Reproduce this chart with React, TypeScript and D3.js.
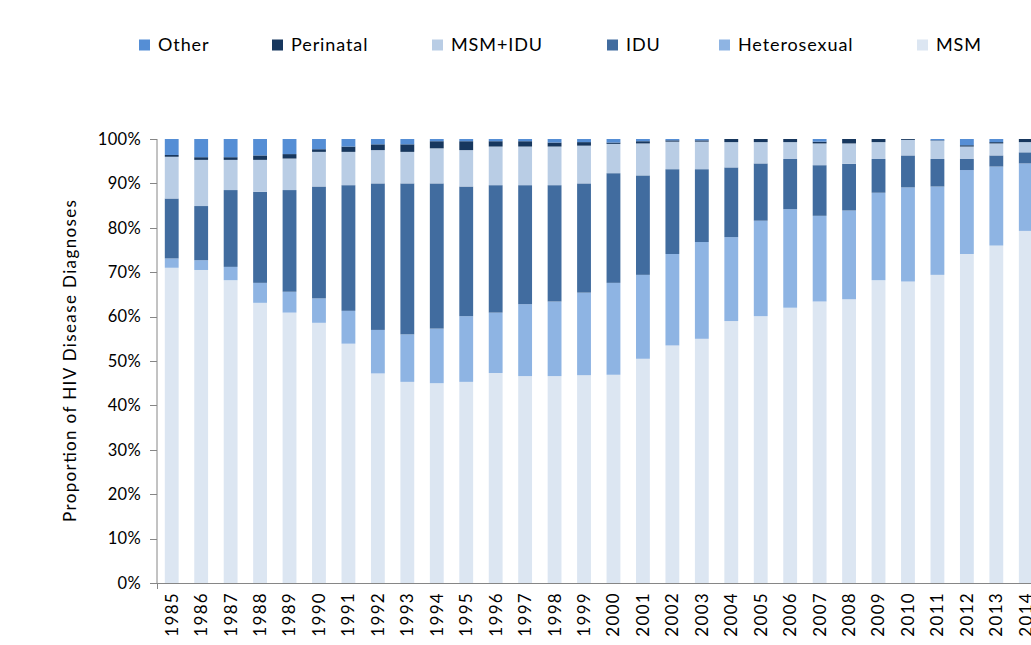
import React, { useEffect, useRef } from "react";
import * as d3 from "d3";

// years on the category axis
const years = [
  "1985", "1986", "1987", "1988", "1989", "1990", "1991", "1992", "1993", "1994",
  "1995", "1996", "1997", "1998", "1999", "2000", "2001", "2002", "2003", "2004",
  "2005", "2006", "2007", "2008", "2009", "2010", "2011", "2012", "2013", "2014"
];

// share of diagnoses (%) per transmission category
const msm = [
  71.0, 70.5, 68.2, 63.1, 60.9, 58.6, 53.9, 47.2, 45.3, 45.0,
  45.3, 47.3, 46.6, 46.6, 46.8, 46.9, 50.5, 53.5, 55.0, 59.0,
  60.1, 62.0, 63.4, 63.9, 68.2, 67.9, 69.4, 74.1, 76.0, 79.3
];
const heterosexual = [
  2.1, 2.2, 3.0, 4.5, 4.7, 5.5, 7.4, 9.8, 10.7, 12.3,
  14.8, 13.6, 16.2, 16.8, 18.6, 20.7, 18.9, 20.6, 21.8, 18.9,
  21.5, 22.2, 19.3, 20.0, 19.7, 21.2, 19.9, 18.9, 17.8, 15.2
];
const idu = [
  13.5, 12.2, 17.3, 20.5, 22.9, 25.2, 28.3, 33.0, 34.0, 32.7,
  29.2, 28.7, 26.8, 26.2, 24.6, 24.7, 22.4, 19.1, 16.4, 15.7,
  12.9, 11.3, 11.4, 10.5, 7.6, 7.2, 6.2, 2.5, 2.5, 2.5
];
const msmIdu = [
  9.4, 10.4, 6.8, 7.2, 7.1, 7.8, 7.5, 7.5, 7.1, 7.9,
  8.2, 8.7, 8.7, 8.7, 8.5, 6.6, 7.2, 6.2, 6.2, 5.7,
  4.8, 3.8, 4.9, 4.6, 3.8, 3.5, 4.1, 2.8, 2.7, 2.3
];
const perinatal = [
  0.4, 0.6, 0.6, 1.0, 1.0, 0.6, 1.2, 1.3, 1.7, 1.6,
  2.0, 1.2, 1.2, 0.9, 0.8, 0.3, 0.5, 0.3, 0.3, 0.7,
  0.7, 0.7, 0.4, 1.0, 0.7, 0.2, 0.1, 0.3, 0.3, 0.7
];
const other = [
  3.6, 4.1, 4.1, 3.7, 3.4, 2.3, 1.7, 1.2, 1.2, 0.5,
  0.5, 0.5, 0.5, 0.8, 0.7, 0.8, 0.5, 0.3, 0.3, 0.0,
  0.0, 0.0, 0.6, 0.0, 0.0, 0.0, 0.4, 1.4, 0.7, 0.0
];

const seriesKeys = ["MSM", "Heterosexual", "IDU", "MSM+IDU", "Perinatal", "Other"];
const seriesValues = [msm, heterosexual, idu, msmIdu, perinatal, other];
const colors = ["#dce6f2", "#8eb4e3", "#416c9f", "#b9cde5", "#17375e", "#558ed5"];

// legend runs in reverse stacking order
const legendKeys = ["Other", "Perinatal", "MSM+IDU", "IDU", "Heterosexual", "MSM"];
const legendX = [139, 272, 432, 607, 719, 917];

const yTicks = [0, 10, 20, 30, 40, 50, 60, 70, 80, 90, 100];

const FONT = "Lato, 'Open Sans', sans-serif";

const App = () => {
  const svgEl = useRef(null);

  useEffect(() => {
    if (!svgEl.current) return;
    drawChart(svgEl.current);
  }, [svgEl]);

  return (
    <svg
      ref={svgEl}
      width={1031}
      height={645}
      style={{ position: "absolute", left: 0, top: 0, background: "#fff" }}
    ></svg>
  );
};

function drawChart(svgEl) {
  const svg = d3.select(svgEl);
  svg.selectAll("*").remove();

  const left = 157;
  const top = 139;
  const bottom = 583;
  const step = 29.45;

  const x = d3
    .scaleBand()
    .domain(years)
    .range([left, left + step * years.length])
    .paddingInner(0.53)
    .paddingOuter(0.265);

  const y = d3.scaleLinear().domain([0, 100]).range([bottom, top]);

  const table = years.map((yr, i) => {
    const row = { year: yr };
    seriesKeys.forEach((k, j) => {
      row[k] = seriesValues[j][i];
    });
    return row;
  });

  const stacked = d3.stack().keys(seriesKeys)(table);

  // bars
  const layers = svg
    .append("g")
    .selectAll("g")
    .data(stacked)
    .enter()
    .append("g")
    .attr("fill", (d, i) => colors[i]);

  layers
    .selectAll("rect")
    .data(d => d)
    .enter()
    .append("rect")
    .attr("x", d => x(d.data.year))
    .attr("width", x.bandwidth())
    .attr("y", d => y(Math.min(100, d[1])))
    .attr("height", d => Math.max(0, y(d[0]) - y(Math.min(100, d[1]))));

  // y axis
  const axisColor = "#868686";
  const yAxis = svg.append("g");
  yAxis
    .append("line")
    .attr("x1", left)
    .attr("x2", left)
    .attr("y1", top)
    .attr("y2", bottom)
    .attr("stroke", axisColor);
  yAxis
    .selectAll("line.tick")
    .data(yTicks)
    .enter()
    .append("line")
    .attr("class", "tick")
    .attr("x1", left - 7)
    .attr("x2", left)
    .attr("y1", d => Math.round(y(d)) + 0.5)
    .attr("y2", d => Math.round(y(d)) + 0.5)
    .attr("stroke", axisColor);
  yAxis
    .selectAll("text")
    .data(yTicks)
    .enter()
    .append("text")
    .attr("x", left - 16)
    .attr("y", d => y(d))
    .attr("dy", "0.35em")
    .attr("text-anchor", "end")
    .attr("font-family", FONT)
    .attr("font-size", 16.5)
    .attr("letter-spacing", 0.3)
    .attr("fill", "#000")
    .text(d => d + "%");

  // x axis
  svg
    .append("line")
    .attr("x1", left - 7)
    .attr("x2", 1031)
    .attr("y1", bottom + 0.5)
    .attr("y2", bottom + 0.5)
    .attr("stroke", axisColor);
  svg
    .append("line")
    .attr("x1", left + 0.5)
    .attr("x2", left + 0.5)
    .attr("y1", bottom)
    .attr("y2", bottom + 6)
    .attr("stroke", axisColor);

  svg
    .append("g")
    .selectAll("text")
    .data(years)
    .enter()
    .append("text")
    .attr(
      "transform",
      d => "translate(" + (x(d) + x.bandwidth() / 2) + "," + (bottom + 9) + ") rotate(-90)"
    )
    .attr("dy", "0.35em")
    .attr("text-anchor", "end")
    .attr("font-family", FONT)
    .attr("font-size", 17)
    .attr("letter-spacing", 1.3)
    .attr("fill", "#000")
    .text(d => d);

  // axis title
  svg
    .append("text")
    .attr("transform", "translate(76," + 361 + ") rotate(-90)")
    .attr("text-anchor", "middle")
    .attr("font-family", FONT)
    .attr("font-size", 17)
    .attr("textLength", 322)
    .attr("lengthAdjust", "spacing")
    .attr("fill", "#000")
    .text("Proportion of HIV Disease Diagnoses");

  // legend
  const legend = svg
    .append("g")
    .selectAll("g")
    .data(legendKeys)
    .enter()
    .append("g")
    .attr("transform", (d, i) => "translate(" + legendX[i] + ",45)");
  legend
    .append("rect")
    .attr("x", 0)
    .attr("y", -5.5)
    .attr("width", 11)
    .attr("height", 11)
    .attr("fill", d => colors[seriesKeys.indexOf(d)]);
  legend
    .append("text")
    .attr("x", 19)
    .attr("dy", "0.35em")
    .attr("font-family", FONT)
    .attr("font-size", 18)
    .attr("letter-spacing", 0.9)
    .attr("fill", "#000")
    .text(d => d);
}

export default App;
